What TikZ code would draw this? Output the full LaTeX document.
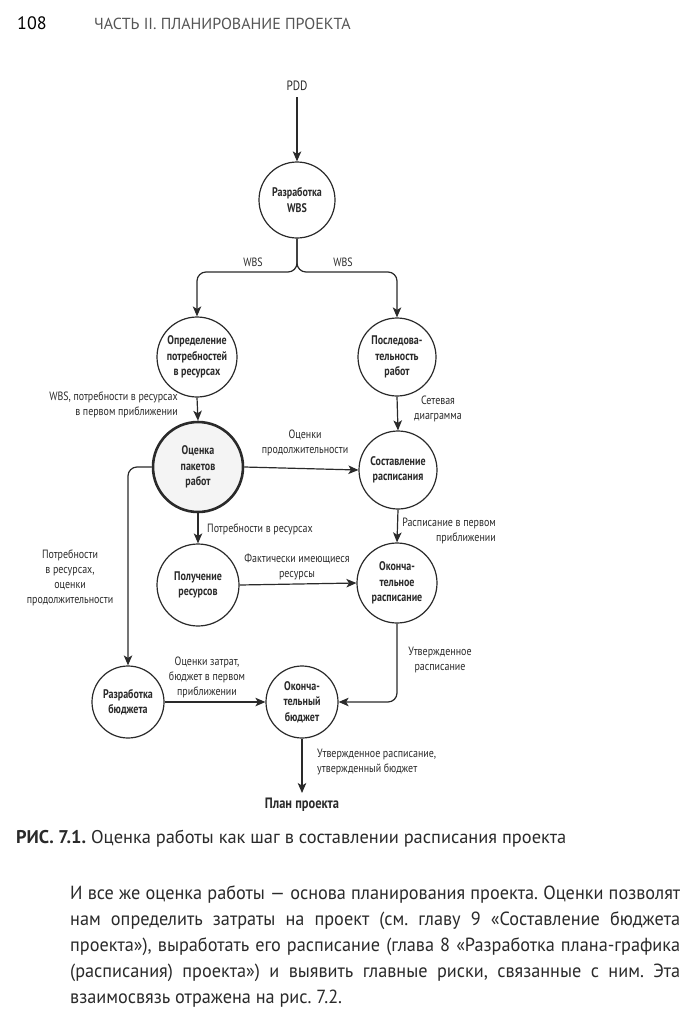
\documentclass[tikz,border=0pt]{standalone}
\usepackage{fontspec}
\setmainfont{PT Sans}
\newfontfamily\dfont[FakeStretch=0.83]{PT Sans}
\newfontfamily\nfont[FakeStretch=0.8]{PT Sans}
\newfontfamily\pfont[FakeStretch=0.96]{PT Sans}
\usetikzlibrary{arrows.meta}
\definecolor{txt}{HTML}{2A2A2A}
\definecolor{hdr}{HTML}{555555}
\begin{document}
\frenchspacing
\begin{tikzpicture}[x=1pt,y=-1pt,
  proc/.style={circle, draw=txt, line width=1.2pt, inner sep=0pt, align=center,
    text=txt, font=\nfont\fontsize{12.5}{15.5}\selectfont\bfseries},
  keyproc/.style={proc, line width=2.6pt, fill=gray!9},
  lbl/.style={inner sep=0pt, align=center, text=txt, font=\dfont\fontsize{12}{15}\selectfont},
  arr/.style={-{Stealth[length=10pt,width=8.5pt,inset=2.5pt]}, line width=1.2pt, draw=txt},
  ptext/.style={inner sep=0pt, anchor=base west, text=txt, font=\pfont\fontsize{19}{26}\selectfont},
]
\fill[white] (0,0) rectangle (700,1020);
\useasboundingbox (0,0) rectangle (700,1020);

% header
\node[inner sep=0pt, anchor=base west, text=black, font=\fontsize{18}{20}\selectfont] (pg) at (17,29) {108};
\node[inner sep=0pt, anchor=base west, text=hdr, font=\fontsize{16}{18}\selectfont] (hd) at (94,29) {ЧАСТЬ II. ПЛАНИРОВАНИЕ ПРОЕКТА};

% nodes
\node[lbl, font=\dfont\fontsize{13.5}{15}\selectfont] (pdd) at (297,86) {PDD};
\node[proc, minimum size=76pt] (wbs) at (297,200) {Разработка\\WBS};
\node[proc, minimum size=80pt] (opr) at (197,357) {Определение\\потребностей\\в ресурсах};
\node[proc, minimum size=78pt] (seq) at (397,357) {Последова-\\тельность\\работ};
\node[keyproc, minimum size=90pt] (est) at (198,467) {Оценка\\пакетов\\работ};
\node[proc, minimum size=78pt] (sch) at (398,470) {Составление\\расписания};
\node[proc, minimum size=82pt] (res) at (198,585) {Получение\\ресурсов};
\node[proc, minimum size=80pt] (fsch) at (397,583) {Оконча-\\тельное\\расписание};
\node[proc, minimum size=72pt] (bud) at (128,702) {Разработка\\бюджета};
\node[proc, minimum size=72pt] (fbud) at (302,702) {Оконча-\\тельный\\бюджет};
\node[lbl, font=\dfont\fontsize{15}{15}\selectfont\bfseries] (plan) at (302,805) {План проекта};

\coordinate (split) at (297,272);
\coordinate (pddend) at (297,97);
\coordinate (planend) at (302,793);

% connectors
\draw[arr] (pddend) -- (wbs.north);
\draw[arr, rounded corners=9pt] (wbs.south) -- (split) -| (opr.north);
\draw[arr, rounded corners=9pt] (wbs.south) -- (split) -| (seq.north);
\draw[arr] (opr.south) -- (est.north);
\draw[arr] (seq.south) -- (sch.north);
\draw[arr] (est.east) -- (sch.west);
\draw[arr] (est.south) -- (res.north);
\draw[arr] (sch.south) -- (fsch.north);
\draw[arr] (res.east) -- (fsch.west);
\draw[arr, rounded corners=9pt] (est.west) -| (bud.north);
\draw[arr, rounded corners=9pt] (fsch.south) |- (fbud.east);
\draw[arr] (bud.east) -- (fbud.west);
\draw[arr] (fbud.south) -- (planend);

% labels
\node[lbl] (l1) at (253,262) {WBS};
\node[lbl] (l2) at (343,262) {WBS};
\node[lbl, align=right, anchor=east] (l3) at (178,405) {WBS, потребности в ресурсах\\в первом приближении};
\node[lbl] (l4) at (438,409) {Сетевая\\диаграмма};
\node[lbl] (l5) at (305,443) {Оценки\\продолжительности};
\node[lbl, anchor=west] (l6) at (207,529) {Потребности в ресурсах};
\node[lbl, align=right, anchor=east] (l7) at (496,531) {Расписание в первом\\приближении};
\node[lbl] (l8) at (297,567) {Фактически имеющиеся\\ресурсы};
\node[lbl] (l9) at (70,578) {Потребности\\в ресурсах,\\оценки\\продолжительности};
\node[lbl] (l10) at (440,660) {Утвержденное\\расписание};
\node[lbl] (l11) at (207,677) {Оценки затрат,\\бюджет в первом\\приближении};
\node[lbl, align=left, anchor=west] (l12) at (317,762) {Утвержденное расписание,\\утвержденный бюджет};

% caption
\node[inner sep=0pt, anchor=base west, text=txt, font=\fontsize{18.4}{20}\selectfont] (cap) at (16,843) {\textbf{РИС. 7.1.} Оценка работы как шаг в составлении расписания проекта};

% paragraph
\node[ptext] (p1) at (70,899) {\makebox[610pt][s]{И все же оценка работы — основа планирования проекта. Оценки позволят}};
\node[ptext] (p2) at (70,925) {\makebox[610pt][s]{нам определить затраты на проект (см. главу 9 «Составление бюджета}};
\node[ptext] (p3) at (70,951) {\makebox[610pt][s]{проекта»), выработать его расписание (глава 8 «Разработка плана-графика}};
\node[ptext] (p4) at (70,977) {\makebox[610pt][s]{(расписания) проекта») и выявить главные риски, связанные с ним. Эта}};
\node[ptext] (p5) at (70,1003) {взаимосвязь отражена на рис. 7.2.};
\end{tikzpicture}
\end{document}
